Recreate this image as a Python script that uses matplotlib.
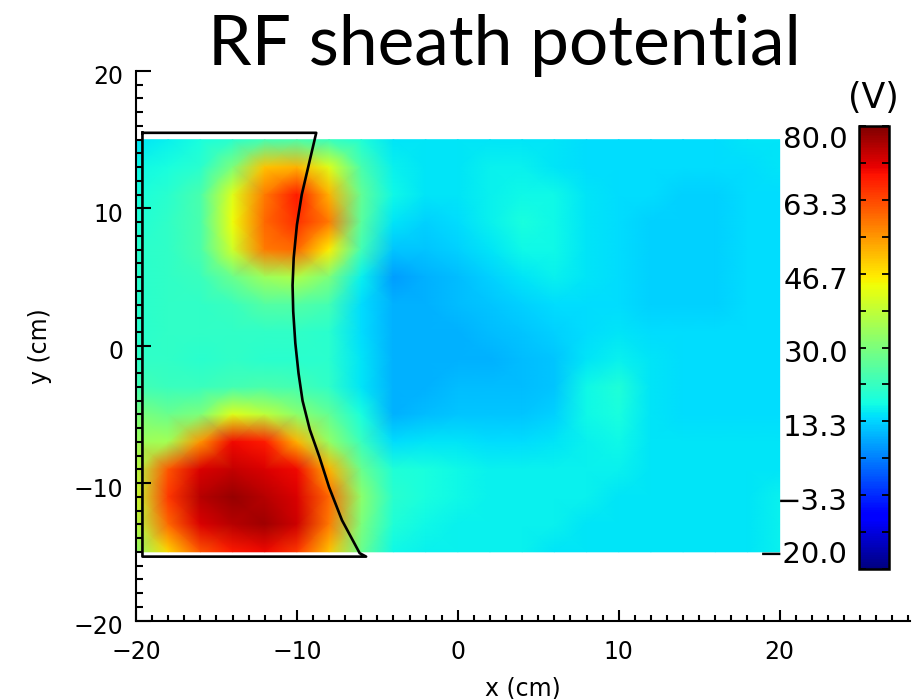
import numpy as np
import matplotlib
matplotlib.use('Agg')
import matplotlib.pyplot as plt
from matplotlib.ticker import MultipleLocator, FixedLocator
from matplotlib.transforms import ScaledTranslation


# grid nodes (cm) and potential (V)
x_nodes = [-20, -18, -16, -14, -12, -10, -8, -6, -4, -2, 0, 2, 4, 6, 8, 10, 12, 14, 16, 18, 20]
y_nodes = [15, 13, 11, 9, 7, 5, 3, 1, -1, -3, -5, -7, -9, -11, -13, -15]

potential = [
  [15, 16, 18, 20, 23, 24, 22, 19, 15, 15, 15, 15, 15, 15, 14, 14, 14, 14, 14, 15, 15],
  [17, 18, 20, 30, 50, 52, 42, 24, 16, 15, 15, 16, 16, 15, 14, 14, 14, 14, 14, 14, 15],
  [18, 20, 24, 42, 58, 68, 52, 27, 17, 15, 15, 16, 17, 17, 15, 14, 14, 13, 13, 14, 14],
  [19, 21, 24, 44, 60, 66, 58, 26, 15, 13, 14, 16, 18, 17, 15, 14, 13, 13, 13, 14, 14],
  [20, 21, 24, 40, 58, 60, 46, 23, 12, 12, 13, 15, 17, 17, 15, 14, 13, 13, 13, 14, 14],
  [20, 21, 22, 28, 34, 36, 30, 16, 8, 10, 11, 13, 15, 16, 15, 14, 13, 13, 13, 14, 14],
  [20, 21, 21, 22, 25, 25, 23, 14, 10, 10, 11, 12, 13, 14, 14, 14, 13, 13, 13, 14, 14],
  [20, 21, 21, 21, 21, 21, 20, 14, 10, 10, 10, 11, 12, 13, 14, 15, 14, 14, 14, 14, 14],
  [21, 21, 20, 21, 20, 20, 20, 15, 10, 10, 10, 10, 11, 12, 15, 16, 15, 14, 14, 14, 14],
  [23, 22, 22, 23, 24, 23, 21, 15, 10, 10, 11, 11, 11, 12, 17, 19, 15, 14, 14, 14, 14],
  [30, 28, 30, 42, 38, 32, 27, 18, 10, 11, 12, 12, 12, 13, 17, 18, 15, 14, 14, 14, 14],
  [34, 35, 55, 70, 68, 52, 33, 22, 14, 15, 15, 14, 14, 15, 16, 17, 15, 15, 15, 15, 15],
  [37, 62, 72, 74, 72, 70, 52, 28, 19, 18, 17, 16, 16, 16, 16, 16, 15, 15, 15, 15, 15],
  [39, 65, 75, 78, 75, 72, 60, 32, 20, 18, 17, 16, 16, 16, 16, 15, 15, 15, 15, 15, 16],
  [37, 60, 72, 75, 77, 73, 58, 30, 19, 17, 16, 16, 16, 16, 15, 15, 15, 15, 15, 15, 16],
  [32, 48, 62, 68, 70, 65, 50, 28, 17, 16, 16, 16, 16, 15, 15, 15, 15, 15, 15, 15, 16],
]

# antenna outline (cm)
outline_x = [-19.6, -8.8, -9.7, -10.0, -10.2, -10.27, -10.23, -10.1, -9.9, -9.65,
             -9.2, -8.6, -8.0, -7.2, -6.1, -5.7, -19.6, -19.6]
outline_y = [15.5, 15.5, 11.0, 8.8, 6.4, 4.4, 2.5, 0.2, -2.0, -4.0,
             -6.1, -8.1, -10.3, -12.7, -15.1, -15.35, -15.35, 15.5]

cbar_values = [-20.0, -3.333, 13.333, 30.0, 46.667, 63.333, 80.0]
cbar_labels = ['\u221220.0', '\u22123.3', '13.3', '30.0', '46.7', '63.3', '80.0']
cbar_minor = [-11.667, 5.0, 21.667, 38.333, 55.0, 71.667]


def main():
  fig = plt.figure(figsize=(9.19, 6.99), dpi=100)
  ax = fig.add_axes([136 / 919, 1 - 620.5 / 699, 774 / 919, 549.5 / 699])

  mesh = ax.pcolormesh(x_nodes, y_nodes, np.array(potential), cmap='jet',
                       vmin=-20, vmax=80, shading='gouraud', zorder=1)
  ax.plot(outline_x, outline_y, color='black', lw=1.9, zorder=3, clip_on=False)

  ax.set_xlim(-20, 28.1)
  ax.set_ylim(-20, 20)
  for side in ['top', 'right']:
    ax.spines[side].set_visible(False)
  for side in ['left', 'bottom']:
    ax.spines[side].set_linewidth(1.5)
    ax.spines[side].set_zorder(4)

  ax.set_xticks([-20, -10, 0, 10, 20])
  ax.set_yticks([-20, -10, 0, 10, 20])
  ax.xaxis.set_minor_locator(MultipleLocator(1))
  ax.yaxis.set_minor_locator(MultipleLocator(1))
  ax.tick_params(axis='x', which='major', direction='in', length=8, width=1.5,
                 labelsize=17, pad=14)
  ax.tick_params(axis='x', which='minor', direction='in', length=4, width=1.5)
  ax.tick_params(axis='y', which='major', direction='in', length=11, width=1.5,
                 labelsize=17, pad=9)
  ax.tick_params(axis='y', which='minor', direction='in', length=5, width=1.5)
  shift = ScaledTranslation(0, -4 / 100, fig.dpi_scale_trans)
  for lab in ax.get_yticklabels():
    lab.set_transform(lab.get_transform() + shift)

  ax.set_xlabel('x (cm)', fontsize=17, labelpad=9)
  ax.set_ylabel('y (cm)', fontsize=17, labelpad=16)

  # colorbar
  cax = fig.add_axes([859 / 919, 1 - 569 / 699, 30 / 919, 443 / 699])
  cb = fig.colorbar(mesh, cax=cax)
  cb.set_ticks(cbar_values)
  cb.set_ticklabels(cbar_labels)
  cax.yaxis.set_minor_locator(FixedLocator(cbar_minor))
  cax.tick_params(which='both', direction='in', left=True, right=True,
                  labelleft=True, labelright=False, length=5, width=1.3,
                  labelsize=21, pad=8)
  cb.outline.set_linewidth(1.8)
  labs = cax.get_yticklabels()
  labs[0].set_va('bottom')
  labs[-1].set_va('top')
  down = ScaledTranslation(0, -4 / 100, fig.dpi_scale_trans)
  for lab in labs[1:-1]:
    lab.set_transform(lab.get_transform() + down)
  fig.text(873 / 919, 1 - 98 / 699, '(V)', ha='center', va='center', fontsize=25)

  fig.text(504 / 919, 1 - 65 / 699, 'RF sheath potential', ha='center',
           va='baseline', fontsize=50, family='Lato')

  fig.savefig('out.png', dpi=100)


if __name__ == '__main__':
  main()
